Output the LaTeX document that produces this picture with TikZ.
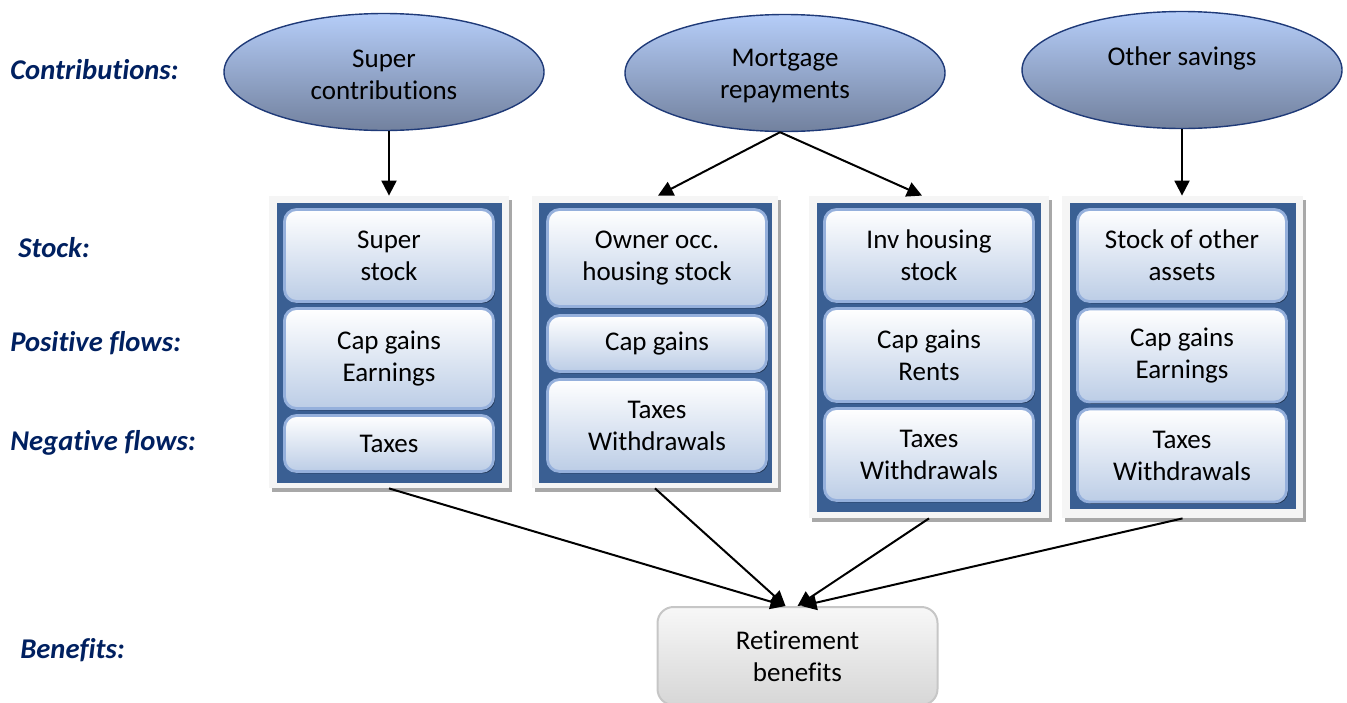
\documentclass[tikz,border=0pt]{standalone}
\usepackage{fontspec}
\setmainfont{Carlito}[Ligatures=NoCommon]
\usepackage{tikz}
\usetikzlibrary{shapes.geometric,arrows.meta,shadows,calc}
\definecolor{navy}{HTML}{002060}
\definecolor{panelblue}{HTML}{3A5F93}
\definecolor{celledge}{HTML}{95B0DC}
\definecolor{celllow}{HTML}{BCCDE6}
\definecolor{elltop}{HTML}{B5CDF8}
\definecolor{ellmid}{HTML}{A2B5DA}
\definecolor{ellbot}{HTML}{72819E}
\definecolor{elledge}{HTML}{1F3A78}

\begin{document}
\begin{tikzpicture}[x=0.5pt,y=-0.5pt,
    every node/.style={font=\fontsize{13.5}{16}\selectfont, align=center, inner sep=0pt},
    rowlab/.style={anchor=west, text=navy, font=\fontsize{14.3}{17}\selectfont\bfseries\itshape},
    source/.style={ellipse, draw=elledge, line width=0.7pt, top color=elltop, middle color=ellmid,
        bottom color=ellbot, minimum width=160pt, minimum height=58.5pt},
    frame/.style={fill=gray!8, drop shadow={shadow xshift=1.6pt, shadow yshift=-1.8pt, fill=gray!75, opacity=0.9}},
    inner/.style={fill=panelblue},
    cell/.style={rounded corners=6pt, draw=celledge, line width=1.4pt, top color=white, bottom color=celllow,
        drop shadow={shadow xshift=0.8pt, shadow yshift=-0.9pt, fill=black!70!panelblue, opacity=0.6}},
    flow/.style={line width=1pt, -{Triangle[length=7.5pt,width=7.5pt]}}
]
\useasboundingbox (0,0) rectangle (1347,702);

% row labels
\foreach \name/\lx/\ly/\lab in {lc/10/70/Contributions:, ls/18/248/Stock:, lp/10/343/Positive flows:,
    ln/10/443/Negative flows:, lb/20/650/Benefits:}
    \node[rowlab] (\name) at (\lx,\ly) {\lab};

% contributions
\node[source] (e1) at (384,72) {\strut Super\\contributions};
\node[source] (e2) at (785,73) {\strut Mortgage\\repayments};
\node[source] (e3) at (1182,70) {\strut Other savings\\\mbox{}};

% stock panels
\node[frame, minimum width=120pt, minimum height=146pt] (p1) at (389,342) {};
\node[frame, minimum width=123pt, minimum height=146pt] (p2) at (655,342) {};
\node[frame, minimum width=120pt, minimum height=161pt] (p3) at (929,357) {};
\node[frame, minimum width=120.5pt, minimum height=161pt] (p4) at (1182.5,357) {};
\node[inner, minimum width=112.5pt, minimum height=140pt] (b1) at (389.5,343) {};
\node[inner, minimum width=116.5pt, minimum height=140pt] (b2) at (655.5,343) {};
\node[inner, minimum width=112pt, minimum height=154.5pt] (b3) at (929,357.5) {};
\node[inner, minimum width=113pt, minimum height=153pt] (b4) at (1183,356) {};

\node[cell, minimum width=104.5pt, minimum height=46pt] (c11) at (389,255.5) {Super\\stock};
\node[cell, minimum width=104.5pt, minimum height=50pt] (c12) at (389,358.5) {Cap gains\\Earnings};
\node[cell, minimum width=104.5pt, minimum height=28pt] (c13) at (389,443.5) {Taxes};

\node[cell, minimum width=109.5pt, minimum height=48.5pt] (c21) at (657,258) {Owner occ.\\housing stock};
\node[cell, minimum width=109.5pt, minimum height=28pt] (c22) at (657,343.5) {Cap gains};
\node[cell, minimum width=109.5pt, minimum height=46pt] (c23) at (657,425.5) {Taxes\\Withdrawals};

\node[cell, minimum width=104.5pt, minimum height=46pt] (c31) at (929,255.5) {Inv housing\\stock};
\node[cell, minimum width=104.5pt, minimum height=46.5pt] (c32) at (929,355) {Cap gains\\Rents};
\node[cell, minimum width=104.5pt, minimum height=46pt] (c33) at (929,454.5) {Taxes\\Withdrawals};

\node[cell, minimum width=104.5pt, minimum height=46pt] (c41) at (1182,255.5) {Stock of other\\assets};
\node[cell, minimum width=104.5pt, minimum height=46.5pt] (c42) at (1182,355.5) {Cap gains\\Earnings};
\node[cell, minimum width=104.5pt, minimum height=46.5pt] (c43) at (1182,455.5) {Taxes\\Withdrawals};

% benefits
\node[rounded corners=8pt, draw=gray!45, line width=1pt, top color=gray!6, bottom color=gray!32,
    minimum width=140pt, minimum height=49pt] (ret) at (797.5,656) {Retirement\\benefits};

\draw[flow] (e1.south -| p1.north) -- (p1.north);
\draw[flow] ($(e2.south)+(-5,0)$) -- ($(p2.north)+(3,0)$);
\draw[flow] ($(e2.south)+(-5,0)$) -- ($(p3.north)+(-7,0)$);
\draw[flow] (e3.south) -- (e3.south |- p4.north);

\draw[flow] (p1.south) -- ($(ret.north)+(-12,0)$);
\draw[flow] (p2.south) -- ($(ret.north)+(-12,0)$);
\draw[flow] (p3.south) -- (ret.north);
\draw[flow] (p4.south) -- ($(ret.north)+(4,0)$);
\end{tikzpicture}
\end{document}
